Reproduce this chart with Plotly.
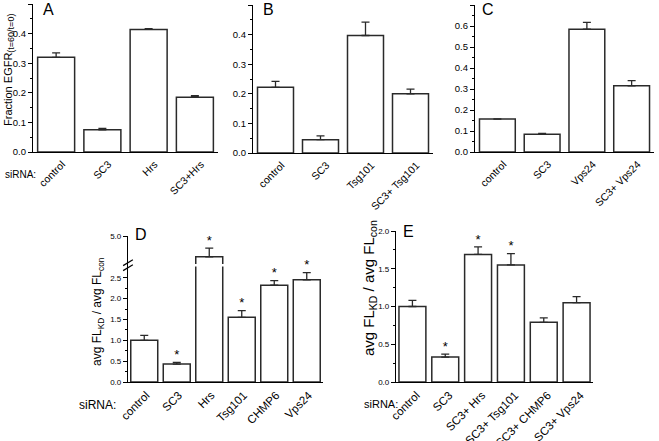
import plotly.graph_objects as go

W, H = 659, 441

# ---------------- data ----------------
a_cats = ["control", "SC3", "Hrs", "SC3+Hrs"]
a_vals = [0.320, 0.075, 0.414, 0.185]
a_err_top = [0.335, 0.080, 0.417, 0.190]

b_cats = ["control", "SC3", "Tsg101", "SC3+ Tsg101"]
b_vals = [0.222, 0.045, 0.397, 0.200]
b_err_top = [0.242, 0.058, 0.442, 0.216]

c_cats = ["control", "SC3", "Vps24", "SC3+ Vps24"]
c_vals = [0.157, 0.085, 0.585, 0.315]
c_err_top = [0.158, 0.088, 0.617, 0.340]

d_cats = ["control", "SC3", "Hrs", "Tsg101", "CHMP6", "Vps24"]
d_vals = [1.00, 0.43, 3.50, 1.55, 2.32, 2.45]
d_err_top = [1.12, 0.47, 4.13, 1.71, 2.43, 2.62]
d_sig = [False, True, True, True, True, True]
d_ticks = [0.0, 0.5, 1.0, 1.5, 2.0, 2.5, 5.0]

e_cats = ["control", "SC3", "SC3+ Hrs", "SC3+ Tsg101", "SC3+ CHMP6", "SC3+ Vps24"]
e_vals = [1.00, 0.33, 1.69, 1.55, 0.79, 1.05]
e_err_top = [1.08, 0.37, 1.79, 1.70, 0.85, 1.13]
e_sig = [False, True, True, True, False, False]

# axis break for panel D
BREAK = 2.75
TOP_VAL = 5.0
TOP_DISP = 3.5


def d_disp(v):
    if v <= BREAK:
        return v
    return BREAK + (v - BREAK) * (TOP_DISP - BREAK) / (TOP_VAL - BREAK)


FONT = "Arial, 'Liberation Sans', sans-serif"
EDGE = "#2a2a2a"

fig = go.Figure()


def px_x(p):
    return p / W


def px_y(p):
    return 1 - p / H


def add_panel(idx, cats, vals, tops, width, sig=None):
    xa = "x" if idx == 1 else f"x{idx}"
    ya = "y" if idx == 1 else f"y{idx}"
    fig.add_trace(go.Bar(
        x=cats, y=vals, width=[width] * len(cats),
        marker=dict(color="white", line=dict(color=EDGE, width=1.5)),
        error_y=dict(type="data", symmetric=False,
                     array=[t - v for t, v in zip(tops, vals)],
                     arrayminus=[0] * len(vals),
                     color=EDGE, thickness=1.3, width=4),
        xaxis=xa, yaxis=ya, showlegend=False, hoverinfo="skip"))
    if sig is not None:
        sx = [c for c, s in zip(cats, sig) if s]
        sy = [t for t, s in zip(tops, sig) if s]
        fig.add_trace(go.Scatter(
            x=sx, y=sy, mode="text", text=["*"] * len(sx),
            textposition="top center",
            textfont=dict(family=FONT, size=13, color="black"),
            xaxis=xa, yaxis=ya, showlegend=False, hoverinfo="skip"))


add_panel(1, a_cats, a_vals, a_err_top, 0.8)
add_panel(2, b_cats, b_vals, b_err_top, 0.8)
add_panel(3, c_cats, c_vals, c_err_top, 0.8)
add_panel(4, d_cats, [d_disp(v) for v in d_vals],
          [d_disp(v) for v in d_err_top], 0.83, d_sig)
add_panel(5, e_cats, e_vals, e_err_top, 0.82, e_sig)

# panel geometry in pixels: (left, right, top, bottom)
geo = {
    1: (33, 218, 4, 152),
    2: (253, 433, 5, 153),
    3: (475, 654, 5, 152),
    4: (128, 323, 236, 382),
    5: (396, 593, 231, 382),
}

xtick_font = {1: 10.5, 2: 10.5, 3: 10.5, 4: 11.5, 5: 11.5}
ytick_font = {1: 9.5, 2: 9.5, 3: 9.5, 4: 8, 5: 8}
yranges = {1: [0, 0.5], 2: [0, 0.5], 3: [0, 0.7], 4: [0, TOP_DISP], 5: [0, 2.0]}
ydticks = {1: 0.1, 2: 0.1, 3: 0.1, 4: 0.5, 5: 0.5}
xshift = {1: 6, 2: 6, 3: 6, 4: 2, 5: 4}

layout = dict(
    width=W, height=H, margin=dict(l=0, r=0, t=0, b=0, autoexpand=False),
    paper_bgcolor="white", plot_bgcolor="white",
    font=dict(family=FONT, color="black"),
)

for i, (l, r, t, b) in geo.items():
    xk = "xaxis" if i == 1 else f"xaxis{i}"
    yk = "yaxis" if i == 1 else f"yaxis{i}"
    yanchor = "y" if i == 1 else f"y{i}"
    xanchor = "x" if i == 1 else f"x{i}"
    layout[xk] = dict(
        domain=[px_x(l), px_x(r)], anchor=yanchor, automargin=False,
        type="category", tickangle=-45, showgrid=False, zeroline=False,
        showline=True, linecolor="black", linewidth=1.3, ticks="",
        ticklabelshift=xshift[i], ticklabelstandoff=1,
        tickfont=dict(family=FONT, size=xtick_font[i], color="black"),
        fixedrange=True)
    ya = dict(
        domain=[px_y(b), px_y(t)], anchor=xanchor, range=yranges[i],
        automargin=False,
        showgrid=False, zeroline=False, showline=True, linecolor="black",
        linewidth=1.3, ticks="outside", ticklen=4, tickwidth=1.1,
        tickcolor="black",
        tickfont=dict(family=FONT, size=ytick_font[i], color="black"),
        tickformat=".1f", fixedrange=True)
    if i == 4:
        ya.update(tickmode="array", tickvals=[d_disp(v) for v in d_ticks],
                  ticktext=[f"{v:.1f}" for v in d_ticks])
        ya["minor"] = dict(tickmode="array",
                           tickvals=[0.25, 0.75, 1.25, 1.75, 2.25],
                           ticks="outside", ticklen=2, tickcolor="black")
    else:
        ya.update(tick0=0, dtick=ydticks[i])
        ya["minor"] = dict(dtick=ydticks[i] / 2, ticks="outside", ticklen=2,
                           tickcolor="black")
    layout[yk] = ya

fig.update_layout(**layout)

# axis break marks on panel D
by = 2.8
for dy in (-0.06, 0.06):
    fig.add_shape(type="line", xref="x4 domain", yref="y4",
                  x0=-0.025, x1=0.025, y0=by + dy - 0.07, y1=by + dy + 0.07,
                  line=dict(color="black", width=1.2))
fig.add_shape(type="rect", xref="x4", yref="y4",
              x0=1.5, x1=2.5, y0=by - 0.03, y1=by + 0.03,
              fillcolor="white", line=dict(width=0), layer="above")

# annotations: panel letters, axis titles, siRNA labels
ann = []


def add_text(x, y, text, size, angle=0, xanchor="center", yanchor="middle"):
    ann.append(dict(x=px_x(x), y=px_y(y), xref="paper", yref="paper",
                    text=text, showarrow=False, textangle=angle,
                    xanchor=xanchor, yanchor=yanchor,
                    font=dict(family=FONT, size=size, color="black")))


add_text(48, 9, "A", 16)
add_text(268, 9, "B", 16)
add_text(488, 9, "C", 16)
add_text(141, 235, "D", 16)
add_text(408, 231, "E", 16)

add_text(9, 70,
         "Fraction EGFR<sub><span style='font-size:9px'>(t=60/t=0)</span></sub>",
         11, angle=-90)
add_text(98, 312, "avg FL<sub>KD</sub> / avg FL<sub>con</sub>", 12, angle=-90)
add_text(369, 288, "avg FL<sub>KD</sub> / avg FL<sub>con</sub>", 15, angle=-90)

add_text(3, 175, "siRNA:", 10, xanchor="left")
add_text(77, 405, "siRNA:", 12, xanchor="left")
add_text(362, 404, "siRNA:", 11, xanchor="left")

fig.update_layout(annotations=ann)

fig.write_html("out.html",
               config={"displayModeBar": False},
               post_script="document.body.style.margin='0';"
                           "document.body.style.overflow='hidden';")
